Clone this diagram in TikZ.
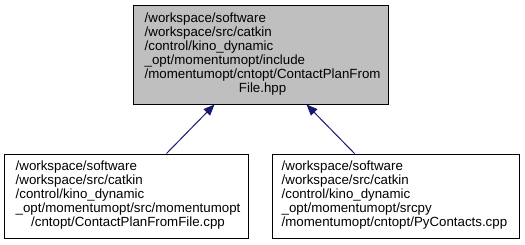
\documentclass[tikz,border=0pt]{standalone}
\usepackage{fontspec}
\setmainfont{Liberation Sans}
\usetikzlibrary{arrows.meta,calc}
\definecolor{edgeblue}{RGB}{25,25,112}
\definecolor{boxgray}{RGB}{191,191,191}
\tikzset{
  filebox/.style={draw=black, line width=1pt, rectangle, inner sep=0pt,
    minimum height=84pt},
  filetext/.style={anchor=west, inner sep=0pt,
    font=\fontsize{13.3}{14}\selectfont},
  dep/.style={draw=edgeblue, line width=1pt,
    {Triangle[length=11pt,width=9pt]}-{}},
}
\begin{document}
\begin{tikzpicture}[x=1pt,y=-1pt]
\useasboundingbox (0,0) rectangle (525,244);
% included header
\node[filebox, fill=boxgray, minimum width=255pt, minimum height=99pt] (hdr) at (260.5,54.5) {};
\node[filetext] (hdrtxt) at ($(hdr.west)+(12,0)$)
  {\begin{tabular}{@{}l@{}}
   /workspace/software\\
   /workspace/src/catkin\\
   /control/kino\_dynamic\\
   \_opt/momentumopt/include\\
   /momentumopt/cntopt/ContactPlanFrom\\
   \multicolumn{1}{@{}c@{}}{File.hpp}
   \end{tabular}};
% including source files
\node[filebox, fill=white, minimum width=244pt] (src) at (126,196) {};
\node[filetext] (srctxt) at ($(src.west)+(12,0)$)
  {\begin{tabular}{@{}l@{}}
   /workspace/software\\
   /workspace/src/catkin\\
   /control/kino\_dynamic\\
   \_opt/momentumopt/src/momentumopt\\
   \multicolumn{1}{@{}c@{}}{/cntopt/ContactPlanFromFile.cpp}
   \end{tabular}};
\node[filebox, fill=white, minimum width=247pt] (py) at (395.5,196) {};
\node[filetext] (pytxt) at ($(py.west)+(10,0)$)
  {\begin{tabular}{@{}l@{}}
   /workspace/software\\
   /workspace/src/catkin\\
   /control/kino\_dynamic\\
   \_opt/momentumopt/srcpy\\
   /momentumopt/cntopt/PyContacts.cpp
   \end{tabular}};
% dependency edges
\draw[dep] ($(hdr.south west)+(82,0)$) -- ($(src.north west)+(163,0)$);
\draw[dep] ($(hdr.south west)+(174,0)$) -- ($(py.north west)+(83,0)$);
\end{tikzpicture}
\end{document}
